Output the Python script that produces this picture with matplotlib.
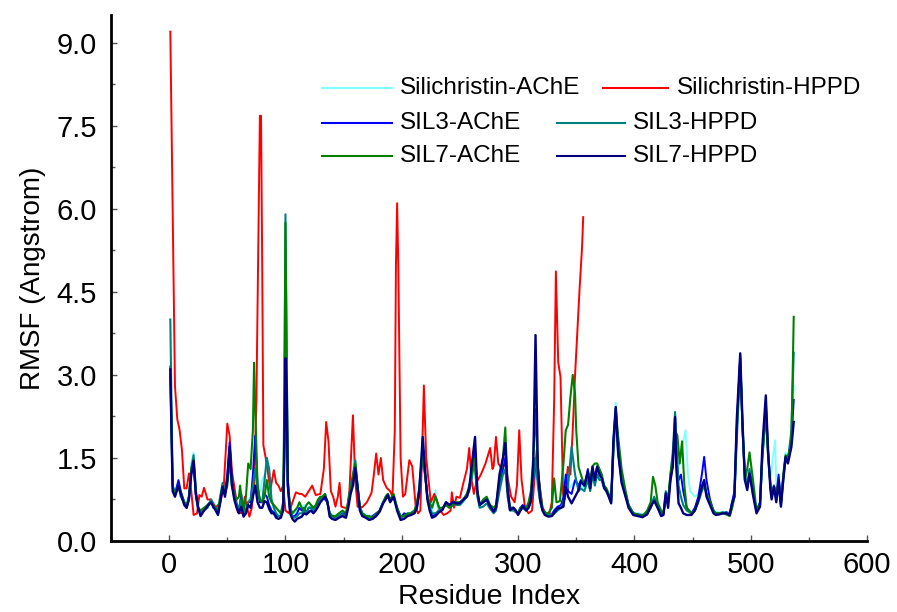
import matplotlib
matplotlib.use("Agg")
import matplotlib.pyplot as plt
from matplotlib.lines import Line2D
from matplotlib.ticker import MultipleLocator, FormatStrFormatter

plt.rcParams['font.family'] = ['Liberation Sans', 'DejaVu Sans']

# RMSF per residue: (residue index, RMSF in Angstrom)
silichristin_ache = [
    (1, 2.9), (3, 1.0), (5, 0.9), (8, 1.05), (10, 0.9), (13, 0.7), (15, 0.65), (17, 0.85), (19, 1.4), (21, 1.6),
    (23, 0.9), (25, 0.6), (27, 0.55), (30, 0.6), (33, 0.65), (36, 0.75), (38, 0.7), (40, 0.65), (42, 0.55), (44, 0.85),
    (46, 1.05), (48, 0.9), (50, 1.1), (52, 1.5), (54, 1.0), (56, 0.8), (58, 0.7), (60, 0.6), (62, 0.75), (64, 0.5),
    (66, 0.6), (68, 0.75), (70, 0.8), (72, 1.0), (74, 1.2), (76, 1.1), (78, 0.9), (80, 1.1), (82, 1.2), (84, 1.0),
    (86, 0.9), (88, 0.75), (90, 0.6), (92, 0.5), (94, 0.48), (96, 0.5), (98, 0.65), (99, 2.0), (100, 4.6), (101, 3.0),
    (102, 1.1), (104, 0.6), (106, 0.5), (108, 0.5), (110, 0.55), (112, 0.65), (114, 0.6), (116, 0.65), (118, 0.55), (120, 0.6),
    (122, 0.65), (124, 0.6), (126, 0.6), (128, 0.7), (130, 0.75), (132, 0.8), (134, 0.8), (136, 0.7), (138, 0.5), (140, 0.48),
    (143, 0.45), (146, 0.5), (149, 0.5), (152, 0.5), (154, 0.7), (156, 0.95), (158, 1.15), (160, 1.4), (162, 1.0), (164, 0.62),
    (166, 0.5), (169, 0.48), (172, 0.45), (175, 0.45), (178, 0.5), (181, 0.55), (184, 0.72), (186, 0.8), (188, 0.85), (190, 0.75),
    (193, 0.82), (196, 0.6), (199, 0.45), (202, 0.48), (205, 0.5), (208, 0.52), (211, 0.55), (213, 0.65), (215, 0.9), (216, 1.15),
    (218, 1.65), (220, 1.25), (222, 0.8), (224, 0.62), (226, 0.5), (229, 0.92), (231, 0.55), (235, 0.6), (238, 0.68), (241, 0.62),
    (244, 0.7), (247, 0.68), (250, 0.7), (253, 0.75), (256, 0.82), (258, 0.95), (260, 1.15), (262, 1.45), (263, 1.4), (265, 0.85),
    (267, 0.62), (270, 0.7), (273, 0.75), (276, 0.6), (279, 0.55), (281, 0.6), (284, 1.0), (287, 1.3), (289, 1.45), (291, 0.85),
    (293, 0.6), (296, 0.6), (298, 0.52), (300, 0.5), (302, 0.58), (304, 0.62), (307, 0.58), (309, 0.62), (311, 0.75), (313, 1.1),
    (315, 1.45), (316, 1.25), (317, 1.0), (319, 0.72), (321, 0.55), (323, 0.5), (326, 0.48), (329, 0.5), (331, 0.55), (334, 0.6),
    (337, 0.65), (339, 0.75), (341, 1.0), (343, 0.95), (346, 1.0), (349, 1.1), (352, 0.95), (354, 1.0), (357, 0.95), (360, 1.15),
    (362, 0.95), (364, 1.2), (366, 1.05), (368, 1.25), (370, 1.15), (372, 1.1), (374, 0.95), (376, 0.88), (378, 0.8), (380, 0.72),
    (382, 1.9), (384, 2.5), (386, 1.8), (389, 1.1), (392, 0.85), (395, 0.65), (399, 0.5), (403, 0.5), (407, 0.48), (411, 0.52),
    (414, 0.65), (417, 0.78), (420, 0.62), (423, 0.52), (425, 0.52), (427, 0.85), (429, 0.75), (431, 1.15), (433, 1.5), (435, 2.2),
    (436, 1.6), (438, 1.3), (441, 1.7), (444, 2.0), (446, 1.2), (448, 0.9), (450, 0.85), (452, 0.8), (455, 0.85), (458, 1.0),
    (460, 1.1), (462, 0.9), (465, 0.7), (468, 0.55), (470, 0.52), (473, 0.52), (476, 0.52), (479, 0.52), (482, 0.5), (484, 0.72),
    (486, 0.85), (488, 2.1), (491, 3.3), (493, 2.1), (495, 1.2), (497, 1.0), (499, 1.3), (502, 0.9), (505, 0.6), (508, 0.68),
    (510, 1.5), (513, 2.4), (515, 1.6), (517, 1.05), (519, 1.5), (521, 1.82), (522, 1.0), (524, 1.15), (526, 0.7), (528, 1.2),
    (530, 1.6), (532, 1.5), (535, 1.9), (537, 2.8),
]

silichristin_hppd = [
    (1, 9.2), (3, 6.0), (5, 2.8), (7, 2.2), (9, 2.0), (11, 1.64), (13, 0.95), (15, 0.95), (17, 1.22), (19, 0.9),
    (21, 0.47), (24, 0.5), (26, 0.83), (28, 0.8), (30, 0.96), (33, 0.75), (36, 0.75), (40, 0.6), (44, 0.7), (47, 1.0),
    (50, 2.12), (52, 1.9), (54, 1.25), (57, 0.85), (59, 0.52), (63, 0.5), (65, 0.8), (67, 0.6), (69, 0.44), (71, 0.6),
    (73, 1.0), (75, 2.5), (77, 6.0), (78, 7.68), (79, 7.68), (80, 5.0), (81, 1.73), (83, 1.5), (85, 1.22), (87, 0.92),
    (90, 1.28), (92, 1.05), (94, 1.0), (96, 0.9), (98, 1.0), (100, 0.55), (103, 0.5), (106, 0.7), (109, 0.88), (112, 0.85),
    (114, 0.85), (117, 0.8), (120, 0.9), (123, 1.0), (126, 0.83), (130, 0.85), (133, 1.3), (135, 2.15), (137, 1.8), (139, 0.9),
    (141, 0.8), (143, 0.62), (145, 0.8), (146.5, 1.05), (148, 0.62), (151, 0.6), (153, 0.6), (155, 0.9), (157, 1.8), (158, 2.27),
    (160, 1.1), (162, 0.62), (166, 0.61), (170, 0.7), (174, 0.87), (176, 1.2), (178, 1.58), (180, 1.2), (182, 1.5), (184, 1.1),
    (187, 0.96), (190, 0.9), (192, 0.8), (194, 2.0), (195, 5.0), (196, 6.1), (197, 5.0), (199, 1.5), (201, 0.8), (203, 0.85),
    (205, 1.2), (206.5, 1.46), (209, 1.35), (212, 0.62), (214, 0.5), (216, 0.55), (218, 2.0), (219, 2.81), (221, 1.5), (223, 1.1),
    (225, 0.7), (228, 0.85), (230, 0.75), (233, 0.55), (236, 0.47), (239, 0.5), (242, 0.55), (243, 0.88), (245, 0.6), (247, 0.8),
    (250, 0.78), (253, 1.05), (256, 1.3), (258, 1.68), (260, 1.1), (262, 0.85), (264, 1.05), (268, 1.2), (272, 1.4), (276, 1.68),
    (278, 1.3), (279, 1.35), (281, 1.88), (283, 1.4), (286, 1.3), (289, 1.4), (291, 1.15), (294, 0.8), (297, 0.7), (299, 1.0),
    (301, 2.0), (303, 1.1), (306, 0.6), (309, 0.5), (312, 0.55), (314, 1.1), (316, 1.64), (318, 1.1), (321, 0.6), (324, 0.5),
    (327, 0.5), (329, 0.7), (331, 2.5), (332.5, 4.87), (334.5, 3.23), (336.5, 2.96), (338.7, 0.86), (340, 0.75), (342.8, 1.34), (345, 1.2),
    (347, 2.0), (349, 3.0), (351, 3.8), (353, 4.6), (355, 5.3), (356, 5.85),
]

sil3_ache = [
    (1, 3.15), (3, 1.0), (5, 0.85), (8, 1.1), (10, 0.9), (13, 0.7), (15, 0.6), (17, 0.75), (19, 1.2), (21, 1.4),
    (23, 0.8), (25, 0.55), (27, 0.5), (30, 0.55), (33, 0.65), (36, 0.72), (38, 0.6), (40, 0.6), (42, 0.5), (44, 0.75),
    (46, 0.95), (48, 0.9), (50, 1.2), (52, 1.78), (54, 1.1), (56, 0.8), (58, 0.65), (60, 0.55), (62, 0.85), (64, 0.5),
    (66, 0.55), (68, 0.7), (70, 0.7), (72, 1.2), (74, 1.9), (76, 1.0), (78, 0.7), (80, 0.7), (82, 0.85), (84, 0.8),
    (86, 0.65), (88, 0.55), (90, 0.52), (92, 0.45), (94, 0.45), (96, 0.45), (98, 0.6), (99, 1.5), (100, 3.3), (101, 2.6),
    (102, 1.0), (104, 0.55), (106, 0.45), (108, 0.45), (110, 0.5), (112, 0.6), (114, 0.55), (116, 0.6), (118, 0.5), (120, 0.6),
    (122, 0.6), (124, 0.55), (126, 0.6), (128, 0.7), (130, 0.75), (132, 0.8), (134, 0.75), (136, 0.7), (138, 0.5), (140, 0.45),
    (143, 0.42), (146, 0.45), (149, 0.5), (152, 0.48), (154, 0.65), (156, 0.9), (158, 1.1), (160, 1.35), (162, 0.95), (164, 0.6),
    (166, 0.5), (169, 0.45), (172, 0.42), (175, 0.45), (178, 0.5), (181, 0.55), (184, 0.7), (186, 0.75), (188, 0.8), (190, 0.72),
    (193, 0.8), (196, 0.58), (199, 0.42), (202, 0.5), (205, 0.48), (208, 0.5), (211, 0.55), (213, 0.6), (215, 0.85), (216, 1.1),
    (218, 1.7), (220, 1.2), (222, 0.8), (224, 0.6), (226, 0.45), (229, 0.48), (232, 0.55), (235, 0.58), (238, 0.7), (241, 0.65),
    (244, 0.7), (247, 0.68), (250, 0.7), (253, 0.75), (256, 0.85), (258, 0.95), (260, 1.2), (262, 1.5), (263, 1.6), (265, 0.9),
    (267, 0.65), (270, 0.7), (273, 0.75), (276, 0.62), (279, 0.55), (281, 0.6), (284, 1.0), (287, 1.3), (289, 1.5), (291, 0.9),
    (293, 0.6), (296, 0.6), (298, 0.55), (300, 0.5), (302, 0.6), (304, 0.65), (307, 0.6), (309, 0.62), (311, 0.75), (313, 1.1),
    (315, 1.5), (316, 1.3), (317, 1.1), (319, 0.75), (321, 0.58), (323, 0.5), (326, 0.47), (329, 0.48), (331, 0.55), (334, 0.62),
    (337, 0.65), (339, 0.8), (341, 1.2), (343, 0.9), (346, 0.85), (349, 1.1), (352, 1.0), (354, 1.1), (357, 1.0), (360, 1.3),
    (362, 1.0), (364, 1.3), (366, 1.15), (368, 1.35), (370, 1.25), (372, 1.15), (374, 1.0), (376, 0.92), (378, 0.82), (380, 0.7),
    (382, 1.8), (384, 2.4), (386, 1.6), (389, 1.1), (392, 0.9), (395, 0.65), (399, 0.5), (403, 0.48), (407, 0.47), (411, 0.5),
    (414, 0.6), (417, 0.75), (420, 0.6), (423, 0.5), (425, 0.5), (427, 0.8), (429, 0.7), (431, 1.1), (433, 1.4), (435, 2.2),
    (436, 1.5), (438, 1.1), (440, 1.2), (442, 0.9), (445, 0.6), (449, 0.5), (452, 0.6), (455, 0.8), (458, 1.2), (460, 1.52),
    (462, 1.1), (465, 0.75), (468, 0.55), (470, 0.5), (473, 0.5), (476, 0.5), (479, 0.52), (482, 0.5), (484, 0.7), (486, 0.9),
    (488, 2.0), (491, 3.35), (493, 2.0), (495, 1.15), (497, 0.95), (499, 1.25), (502, 0.85), (505, 0.55), (508, 0.7), (510, 1.6),
    (513, 2.5), (515, 1.6), (517, 1.0), (518, 0.8), (520, 1.0), (522, 0.8), (524, 1.2), (526, 0.7), (528, 1.15), (530, 1.5),
    (532, 1.5), (535, 1.8), (537, 2.55),
]

sil3_hppd = [
    (1, 4.0), (3, 1.0), (5, 0.85), (8, 1.0), (10, 0.8), (13, 0.7), (15, 0.6), (17, 0.8), (19, 1.3), (21, 1.55),
    (23, 0.9), (25, 0.6), (27, 0.5), (30, 0.55), (33, 0.6), (36, 0.75), (38, 0.65), (40, 0.6), (42, 0.5), (44, 0.8),
    (46, 1.05), (48, 0.85), (50, 1.0), (52, 1.45), (54, 1.0), (56, 0.8), (58, 0.65), (60, 0.6), (62, 0.75), (64, 0.5),
    (66, 0.55), (68, 0.7), (70, 0.75), (72, 1.0), (74, 1.3), (76, 0.9), (78, 0.75), (80, 0.7), (82, 1.1), (84, 1.5),
    (86, 1.3), (88, 0.75), (90, 0.6), (92, 0.5), (94, 0.45), (96, 0.45), (98, 0.6), (99, 2.0), (100, 5.9), (101, 3.5),
    (102, 1.1), (104, 0.55), (106, 0.45), (108, 0.42), (110, 0.45), (112, 0.5), (114, 0.5), (116, 0.55), (118, 0.5), (120, 0.6),
    (122, 0.6), (124, 0.55), (126, 0.6), (128, 0.65), (130, 0.75), (132, 0.8), (134, 0.85), (136, 0.7), (138, 0.5), (140, 0.45),
    (143, 0.42), (146, 0.45), (149, 0.48), (152, 0.45), (154, 0.7), (156, 1.0), (158, 1.2), (160, 1.46), (162, 1.0), (164, 0.6),
    (166, 0.5), (169, 0.45), (172, 0.42), (175, 0.42), (178, 0.48), (181, 0.55), (184, 0.7), (186, 0.75), (188, 0.85), (190, 0.75),
    (193, 0.8), (196, 0.6), (199, 0.42), (202, 0.45), (205, 0.48), (208, 0.5), (211, 0.55), (213, 0.65), (215, 0.9), (216, 1.1),
    (218, 1.6), (220, 1.2), (222, 0.8), (224, 0.6), (226, 0.5), (229, 0.5), (232, 0.55), (235, 0.6), (238, 0.65), (241, 0.6),
    (244, 0.68), (247, 0.65), (250, 0.65), (253, 0.72), (256, 0.8), (258, 0.9), (260, 1.1), (262, 1.4), (263, 1.3), (265, 0.8),
    (267, 0.6), (270, 0.62), (273, 0.68), (276, 0.58), (279, 0.5), (281, 0.55), (284, 0.9), (287, 1.2), (289, 1.3), (291, 0.8),
    (293, 0.55), (296, 0.55), (298, 0.52), (300, 0.5), (302, 0.55), (304, 0.6), (307, 0.55), (309, 0.6), (311, 0.7), (313, 1.1),
    (315, 1.5), (316, 1.3), (317, 1.0), (319, 0.7), (321, 0.55), (323, 0.5), (326, 0.47), (329, 0.48), (331, 0.5), (334, 0.55),
    (337, 0.6), (339, 0.7), (341, 0.9), (343, 1.0), (346, 1.7), (349, 1.2), (352, 0.9), (354, 0.95), (357, 0.9), (360, 1.1),
    (362, 0.9), (364, 1.2), (366, 1.0), (368, 1.2), (370, 1.1), (372, 1.1), (374, 0.95), (376, 0.9), (378, 0.8), (380, 0.7),
    (382, 1.7), (384, 2.4), (386, 1.7), (389, 1.1), (392, 0.85), (395, 0.65), (399, 0.5), (403, 0.47), (407, 0.45), (411, 0.5),
    (414, 0.6), (417, 0.8), (420, 0.65), (423, 0.5), (425, 0.5), (427, 0.9), (429, 0.75), (431, 1.2), (433, 1.6), (435, 2.33),
    (436, 1.8), (438, 1.0), (440, 0.8), (442, 0.65), (445, 0.55), (449, 0.5), (452, 0.55), (455, 0.7), (458, 0.9), (460, 1.0),
    (462, 0.85), (465, 0.7), (468, 0.55), (470, 0.5), (473, 0.5), (476, 0.52), (479, 0.5), (482, 0.5), (484, 0.6), (486, 0.8),
    (488, 1.8), (491, 3.2), (493, 2.0), (495, 1.2), (497, 1.0), (499, 1.3), (502, 0.9), (505, 0.55), (508, 0.65), (510, 1.5),
    (513, 2.4), (515, 1.6), (517, 1.0), (518, 0.8), (520, 1.0), (522, 0.75), (524, 1.0), (526, 0.65), (528, 1.1), (530, 1.5),
    (532, 1.45), (535, 2.0), (537, 3.4),
]

sil7_ache = [
    (1, 3.0), (3, 0.95), (5, 0.85), (8, 1.0), (10, 0.85), (13, 0.7), (15, 0.65), (17, 0.8), (19, 1.3), (21, 1.45),
    (23, 0.85), (25, 0.6), (27, 0.55), (30, 0.6), (33, 0.65), (36, 0.7), (38, 0.65), (40, 0.6), (42, 0.55), (44, 0.8),
    (46, 1.0), (48, 0.85), (50, 1.1), (52, 1.55), (54, 1.0), (56, 0.85), (58, 0.75), (60, 0.8), (61, 1.0), (62, 0.8),
    (64, 0.55), (66, 0.8), (68, 1.4), (70, 1.3), (72, 2.0), (73, 3.22), (74, 2.4), (76, 1.0), (78, 0.75), (80, 0.7),
    (82, 0.8), (84, 1.1), (86, 0.8), (88, 0.7), (90, 0.65), (92, 0.6), (94, 0.55), (96, 0.5), (98, 0.7), (99, 2.5),
    (100, 5.75), (101, 3.5), (102, 1.1), (104, 0.6), (106, 0.5), (108, 0.55), (110, 0.6), (112, 0.7), (114, 0.6), (116, 0.55),
    (118, 0.65), (120, 0.7), (122, 0.65), (124, 0.6), (126, 0.65), (128, 0.75), (130, 0.8), (132, 0.8), (134, 0.85), (136, 0.7),
    (138, 0.5), (140, 0.45), (143, 0.45), (146, 0.5), (149, 0.55), (152, 0.5), (154, 0.7), (156, 0.95), (158, 1.15), (160, 1.4),
    (162, 1.0), (164, 0.6), (166, 0.5), (169, 0.45), (172, 0.45), (175, 0.42), (178, 0.48), (181, 0.55), (184, 0.7), (186, 0.8),
    (188, 0.85), (190, 0.75), (193, 0.85), (196, 0.6), (199, 0.45), (202, 0.45), (205, 0.5), (208, 0.5), (211, 0.55), (213, 0.7),
    (215, 0.95), (216, 1.2), (218, 1.5), (220, 1.2), (222, 0.8), (224, 0.7), (226, 0.6), (229, 0.8), (232, 0.6), (235, 0.6),
    (238, 0.65), (241, 0.6), (244, 0.65), (247, 0.7), (250, 0.7), (253, 0.75), (256, 0.85), (258, 1.0), (260, 1.2), (262, 1.5),
    (263, 1.4), (265, 0.85), (267, 0.65), (270, 0.75), (273, 0.8), (276, 0.65), (279, 0.6), (281, 0.65), (284, 1.1), (287, 1.5),
    (289, 2.05), (291, 1.0), (293, 0.6), (296, 0.6), (298, 0.55), (300, 0.5), (302, 0.6), (304, 0.6), (307, 0.6), (309, 0.7),
    (311, 0.9), (313, 1.5), (315, 2.38), (316, 1.8), (317, 1.3), (319, 0.9), (321, 0.6), (323, 0.5), (326, 0.5), (329, 0.6),
    (331, 1.13), (333, 0.7), (336, 0.72), (339, 1.4), (341, 2.0), (343, 2.1), (345, 2.6), (347, 3.0), (349, 2.66), (350, 2.0),
    (352, 1.34), (354, 1.2), (357, 1.0), (360, 1.25), (362, 1.1), (364, 1.35), (366, 1.4), (368, 1.4), (370, 1.3), (372, 1.2),
    (374, 1.0), (376, 0.95), (378, 0.85), (380, 0.75), (382, 1.6), (384, 2.35), (386, 1.9), (389, 1.3), (392, 0.95), (395, 0.65),
    (399, 0.5), (403, 0.48), (407, 0.45), (411, 0.55), (414, 0.7), (416, 1.16), (418, 1.0), (420, 0.7), (423, 0.55), (425, 0.5),
    (427, 0.75), (429, 0.7), (431, 1.2), (433, 1.5), (435, 2.0), (437, 1.9), (439, 1.4), (441, 1.8), (443, 1.0), (445, 0.6),
    (449, 0.5), (452, 0.55), (455, 0.75), (458, 0.95), (460, 1.05), (462, 0.85), (465, 0.7), (468, 0.55), (470, 0.5), (473, 0.5),
    (476, 0.5), (479, 0.48), (482, 0.45), (484, 0.6), (486, 0.8), (488, 2.0), (491, 3.3), (493, 2.1), (495, 1.1), (497, 1.3),
    (499, 1.6), (502, 1.1), (505, 0.55), (508, 0.65), (510, 1.5), (513, 2.3), (515, 1.5), (517, 1.0), (518, 0.8), (520, 1.0),
    (522, 0.8), (524, 1.1), (526, 0.65), (528, 1.2), (530, 1.55), (532, 1.5), (535, 1.8), (537, 4.05),
]

sil7_hppd = [
    (1, 3.1), (3, 0.9), (5, 0.8), (8, 1.0), (10, 0.85), (13, 0.65), (15, 0.6), (17, 0.75), (19, 1.2), (21, 1.45),
    (23, 0.85), (25, 0.6), (27, 0.45), (30, 0.55), (33, 0.63), (36, 0.7), (38, 0.62), (40, 0.55), (42, 0.47), (44, 0.7),
    (46, 0.98), (48, 0.8), (50, 1.1), (52, 1.7), (54, 1.0), (56, 0.75), (58, 0.6), (60, 0.5), (62, 0.62), (64, 0.44),
    (66, 0.5), (68, 0.65), (70, 0.6), (72, 0.8), (74, 1.0), (76, 0.7), (78, 0.6), (80, 0.6), (82, 0.72), (84, 0.7),
    (86, 0.58), (88, 0.5), (90, 0.5), (92, 0.42), (94, 0.4), (96, 0.42), (98, 0.55), (99, 1.5), (100, 3.3), (101, 2.8),
    (102, 1.0), (104, 0.5), (106, 0.4), (108, 0.35), (110, 0.4), (112, 0.42), (114, 0.44), (116, 0.5), (118, 0.48), (120, 0.52),
    (122, 0.55), (124, 0.5), (126, 0.55), (128, 0.62), (130, 0.7), (132, 0.75), (134, 0.8), (136, 0.72), (138, 0.44), (140, 0.4),
    (143, 0.38), (146, 0.42), (149, 0.45), (152, 0.42), (154, 0.6), (156, 0.85), (158, 1.0), (160, 1.32), (162, 0.95), (164, 0.55),
    (166, 0.45), (169, 0.42), (172, 0.38), (175, 0.4), (178, 0.45), (181, 0.53), (184, 0.68), (186, 0.75), (188, 0.83), (190, 0.7),
    (193, 0.8), (196, 0.55), (199, 0.38), (202, 0.4), (205, 0.45), (208, 0.47), (211, 0.5), (213, 0.6), (215, 0.9), (216, 1.22),
    (218, 1.88), (220, 1.3), (222, 0.75), (224, 0.55), (226, 0.42), (229, 0.45), (232, 0.52), (235, 0.56), (238, 0.7), (241, 0.65),
    (244, 0.7), (247, 0.68), (250, 0.68), (253, 0.75), (256, 0.8), (258, 0.95), (260, 1.34), (262, 1.7), (263, 1.88), (265, 0.9),
    (267, 0.65), (270, 0.7), (273, 0.75), (276, 0.62), (279, 0.53), (281, 0.6), (284, 1.2), (287, 1.5), (289, 1.77), (291, 0.92),
    (293, 0.56), (296, 0.6), (298, 0.55), (300, 0.47), (302, 0.55), (304, 0.63), (307, 0.55), (309, 0.6), (311, 0.72), (313, 1.34),
    (315, 3.72), (316, 2.5), (317, 1.34), (319, 0.75), (321, 0.55), (323, 0.47), (326, 0.44), (329, 0.45), (331, 0.5), (334, 0.59),
    (337, 0.6), (339, 0.62), (341, 0.98), (343, 0.8), (346, 0.68), (349, 0.8), (352, 0.92), (354, 1.07), (357, 1.0), (360, 1.25),
    (362, 0.95), (364, 1.34), (366, 1.1), (368, 1.34), (370, 1.2), (372, 1.13), (374, 0.96), (376, 0.9), (378, 0.8), (380, 0.68),
    (382, 1.82), (384, 2.42), (386, 1.6), (389, 1.05), (392, 0.83), (395, 0.6), (399, 0.47), (403, 0.45), (407, 0.43), (411, 0.48),
    (414, 0.62), (417, 0.73), (420, 0.6), (423, 0.45), (425, 0.47), (427, 0.86), (429, 0.6), (431, 1.1), (433, 1.34), (435, 2.24),
    (436, 1.34), (438, 0.68), (440, 0.6), (442, 0.5), (445, 0.47), (449, 0.47), (452, 0.55), (455, 0.74), (458, 0.98), (460, 1.1),
    (462, 0.8), (465, 0.65), (468, 0.5), (470, 0.47), (473, 0.48), (476, 0.5), (479, 0.5), (482, 0.47), (484, 0.68), (486, 0.8),
    (488, 2.18), (491, 3.39), (493, 2.12), (495, 1.1), (497, 0.92), (499, 1.22), (502, 0.83), (505, 0.5), (508, 0.62), (510, 1.7),
    (513, 2.63), (515, 1.6), (517, 0.92), (518, 0.75), (520, 0.98), (522, 0.7), (524, 1.1), (526, 0.62), (528, 1.1), (530, 1.52),
    (532, 1.4), (535, 1.7), (537, 2.15),
]

series_names = ["Silichristin-AChE", "Silichristin-HPPD", "SIL3-AChE",
                "SIL3-HPPD", "SIL7-AChE", "SIL7-HPPD"]
series_data = [silichristin_ache, silichristin_hppd, sil3_ache,
               sil3_hppd, sil7_ache, sil7_hppd]
series_colors = ["#80FFFF", "#FF0000", "#0000FF", "#008080", "#008000", "#000080"]
series_widths = [1.4, 1.4, 1.4, 1.5, 1.5, 1.7]

W, H = 897, 612
fig = plt.figure(figsize=(W / 100, H / 100), dpi=100)
ax = fig.add_axes([111 / W, 1 - 541 / H, (867 - 111) / W, (541 - 15) / H])

for name, data, color, lw in zip(series_names, series_data, series_colors, series_widths):
    xs = [p[0] for p in data]
    ys = [p[1] for p in data]
    ax.plot(xs, ys, color=color, lw=lw, label=name, solid_joinstyle='round')

ax.set_xlim(-50, 600)
ax.set_ylim(0, 9.5)
ax.xaxis.set_major_locator(MultipleLocator(100))
ax.xaxis.set_minor_locator(MultipleLocator(50))
ax.yaxis.set_major_locator(MultipleLocator(1.5))
ax.yaxis.set_minor_locator(MultipleLocator(0.75))
ax.yaxis.set_major_formatter(FormatStrFormatter('%.1f'))

for s in ("top", "right"):
    ax.spines[s].set_visible(False)
for s in ("left", "bottom"):
    ax.spines[s].set_linewidth(2.0)
    ax.spines[s].set_color("black")

ax.tick_params(which="both", direction="in", width=1.0, colors="#555555",
               labelcolor="black", labelsize=21)
ax.tick_params(which="major", length=4)
ax.tick_params(axis="x", which="major", pad=7)
ax.tick_params(axis="y", which="major", pad=10)
ax.tick_params(which="minor", length=3)

ax.set_xlabel("Residue Index", fontsize=20.5, labelpad=4)
ax.set_ylabel("RMSF (Angstrom)", fontsize=20, labelpad=8)

# legend laid out in rows (pixel positions converted to figure fractions)
legend_rows = [
    [(322, 392, 400, 0), (603, 668, 677, 1)],
    [(322, 392, 400, 2), (557, 625, 633, 3)],
    [(322, 392, 400, 4), (557, 625, 633, 5)],
]
row_y = [88, 123, 156]
for row, yy in zip(legend_rows, row_y):
    for x0, x1, xt, idx in row:
        fy = 1 - yy / H
        fig.add_artist(Line2D([x0 / W, x1 / W], [fy, fy], transform=fig.transFigure,
                              color=series_colors[idx], lw=1.5))
        fig.text(xt / W, fy, series_names[idx], fontsize=17.5, va="center", ha="left")

fig.savefig("out.png", dpi=100)
